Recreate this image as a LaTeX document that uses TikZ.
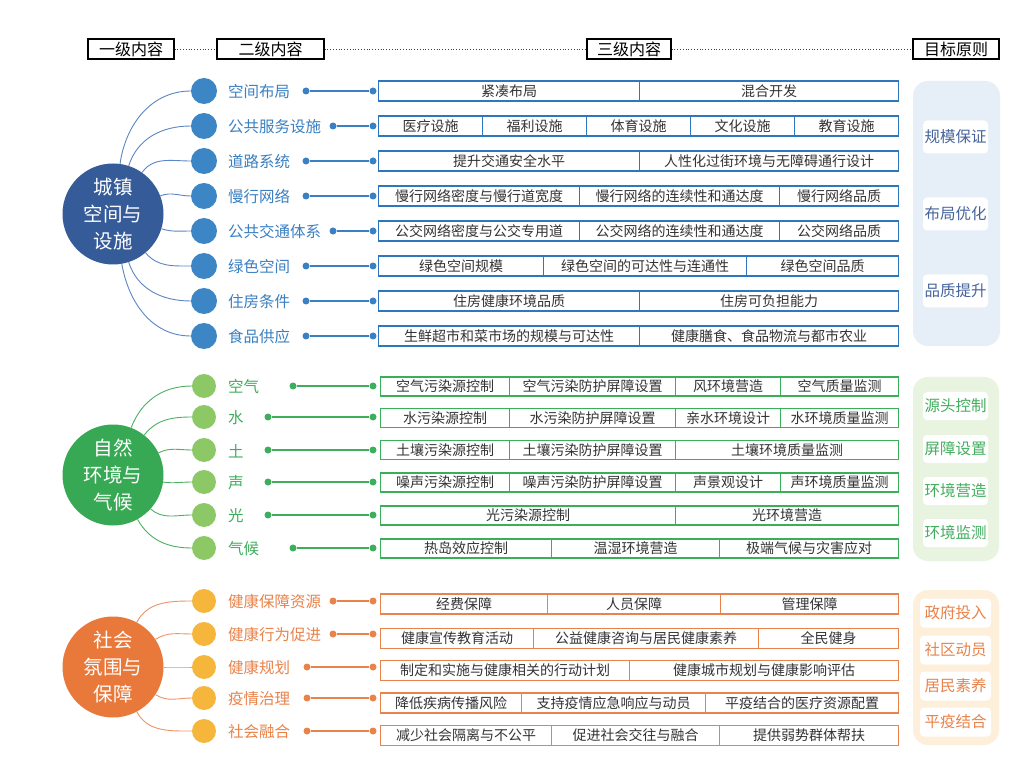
\documentclass[tikz,border=0pt]{standalone}
\usepackage{fontspec}
\setmainfont{Noto Sans CJK SC}
\definecolor{txt}{HTML}{333333}
\definecolor{bBig}{HTML}{355C99}
\definecolor{bSm}{HTML}{3C86C6}
\definecolor{bLab}{HTML}{3A80C2}
\definecolor{bCur}{HTML}{5B86C5}
\definecolor{bBox}{HTML}{2F77BD}
\definecolor{bPan}{HTML}{E6EEF7}
\definecolor{bTag}{HTML}{45649C}
\definecolor{gBig}{HTML}{37A853}
\definecolor{gSm}{HTML}{8CC866}
\definecolor{gLab}{HTML}{3DAE5B}
\definecolor{gCur}{HTML}{4DB063}
\definecolor{gBox}{HTML}{3AAE58}
\definecolor{gPan}{HTML}{E8F4E0}
\definecolor{gTag}{HTML}{42AE5E}
\definecolor{oBig}{HTML}{E8793B}
\definecolor{oSm}{HTML}{F5B63B}
\definecolor{oLab}{HTML}{E9834A}
\definecolor{oCur}{HTML}{EB9566}
\definecolor{oBox}{HTML}{E8834E}
\definecolor{oPan}{HTML}{FDEFD9}
\definecolor{oTag}{HTML}{E9834A}
\tikzset{
 hdr/.style={draw=black, line width=1.2pt, fill=white, minimum height=20pt, inner sep=0pt, text=black, font=\fontsize{16}{16}\selectfont},
 big/.style={circle, minimum size=101pt, inner sep=0pt, text=white, align=center, font=\fontsize{19.5}{27}\selectfont},
 sm/.style={circle, inner sep=0pt},
 lab/.style={anchor=west, inner sep=0pt, font=\fontsize{15.5}{15.5}\selectfont},
 dt/.style={circle, minimum size=7pt, inner sep=0pt},
 cell/.style={line width=1.2pt, fill=white, minimum height=20pt, inner sep=0pt, anchor=west, text=txt, font=\fontsize{14}{14}\selectfont},
 tag/.style={fill=white, rounded corners=4pt, inner sep=0pt, font=\fontsize{15.5}{15.5}\selectfont},
 cur/.style={line width=0.9pt},
}
\newcommand\Cell[6]{%
 \pgfmathsetmacro\cw{#4-#3}%
 \node[cell, #1, minimum width=\cw pt] (#2) at (#3,-#5) {#6};}
\newcommand\Br[6]{%
 \node[sm, fill=#1Sm, minimum size=#6pt] (#1c#2) at (204,-#3) {};
 \node[lab, text=#1Lab] (#1l#2) at (228,-#3-1) {#4};
 \node[dt, fill=#1Lab] (#1d#2) at (#5,-#3) {};
 \node[dt, fill=#1Lab] (#1e#2) at (373,-#3) {};
 \draw[#1Lab, line width=1.4pt] (#1d#2) -- (#1e#2);}
\begin{document}
\begin{tikzpicture}[x=1pt,y=1pt]
\useasboundingbox[fill=white] (0,0) rectangle (1034,-767);
% header
\node[hdr, minimum width=86pt] (h1) at (131,-49) {一级内容};
\node[hdr, minimum width=107pt] (h2) at (270.5,-49) {二级内容};
\node[hdr, minimum width=84pt] (h3) at (629,-49) {三级内容};
\node[hdr, minimum width=86pt] (h4) at (956,-49) {目标原则};
\draw[dotted, line width=0.8pt, black!75] (h1.east) -- (h2.west);
\draw[dotted, line width=0.8pt, black!75] (h2.east) -- (h3.west);
\draw[dotted, line width=0.8pt, black!75] (h3.east) -- (h4.west);
% panels
\fill[bPan, rounded corners=15pt] (913,-81) rectangle (1000,-346);
\fill[gPan, rounded corners=15pt] (913,-377) rectangle (999,-561);
\fill[oPan, rounded corners=15pt] (913,-590) rectangle (999,-745);
\node[tag, text=bTag, minimum width=65pt, minimum height=33pt] (bt1) at (955.5,-137) {规模保证};
\node[tag, text=bTag, minimum width=65pt, minimum height=33pt] (bt2) at (955.5,-214) {布局优化};
\node[tag, text=bTag, minimum width=65pt, minimum height=33pt] (bt3) at (955.5,-291) {品质提升};
\node[tag, text=gTag, minimum width=65pt, minimum height=28pt] (gt1) at (955.5,-406) {源头控制};
\node[tag, text=gTag, minimum width=65pt, minimum height=28pt] (gt2) at (955.5,-449) {屏障设置};
\node[tag, text=gTag, minimum width=65pt, minimum height=28pt] (gt3) at (955.5,-491) {环境营造};
\node[tag, text=gTag, minimum width=65pt, minimum height=28pt] (gt4) at (955.5,-533) {环境监测};
\node[tag, text=oTag, minimum width=71pt, minimum height=29pt] (ot1) at (955.5,-613) {政府投入};
\node[tag, text=oTag, minimum width=71pt, minimum height=29pt] (ot2) at (955.5,-650) {社区动员};
\node[tag, text=oTag, minimum width=71pt, minimum height=29pt] (ot3) at (955.5,-686) {居民素养};
\node[tag, text=oTag, minimum width=71pt, minimum height=29pt] (ot4) at (955.5,-722) {平疫结合};
% ===== blue group
\node[big, fill=bBig] (B) at (113,-214) {城镇\\空间与\\设施};
\Br{b}{1}{91}{空间布局}{306}{26}
\Br{b}{2}{126}{公共服务设施}{333}{26}
\Br{b}{3}{161}{道路系统}{306}{26}
\Br{b}{4}{196}{慢行网络}{306}{26}
\Br{b}{5}{231}{公共交通体系}{333}{26}
\Br{b}{6}{266}{绿色空间}{306}{26}
\Br{b}{7}{301}{住房条件}{306}{26}
\Br{b}{8}{336}{食品供应}{306}{26}
\draw[cur, bCur] (B.82) to[out=82,in=180] (bc1.west);
\draw[cur, bCur] (B.72) to[out=72,in=180] (bc2.west);
\draw[cur, bCur] (B.55) to[out=55,in=180] (bc3.west);
\draw[cur, bCur] (B.21) to[out=21,in=180] (bc4.west);
\draw[cur, bCur] (B.-17) to[out=-17,in=180] (bc5.west);
\draw[cur, bCur] (B.-50) to[out=-50,in=180] (bc6.west);
\draw[cur, bCur] (B.-72) to[out=-72,in=180] (bc7.west);
\draw[cur, bCur] (B.-80) to[out=-80,in=180] (bc8.west);
\Cell{draw=bBox}{b1a}{378}{639}{91}{紧凑布局}
\Cell{draw=bBox}{b1b}{639}{898}{91}{混合开发}
\Cell{draw=bBox}{b2a}{378}{482}{126}{医疗设施}
\Cell{draw=bBox}{b2b}{482}{586}{126}{福利设施}
\Cell{draw=bBox}{b2c}{586}{690}{126}{体育设施}
\Cell{draw=bBox}{b2d}{690}{794}{126}{文化设施}
\Cell{draw=bBox}{b2e}{794}{898}{126}{教育设施}
\Cell{draw=bBox}{b3a}{378}{639}{161}{提升交通安全水平}
\Cell{draw=bBox}{b3b}{639}{898}{161}{人性化过街环境与无障碍通行设计}
\Cell{draw=bBox}{b4a}{378}{579}{196}{慢行网络密度与慢行道宽度}
\Cell{draw=bBox}{b4b}{579}{779}{196}{慢行网络的连续性和通达度}
\Cell{draw=bBox}{b4c}{779}{898}{196}{慢行网络品质}
\Cell{draw=bBox}{b5a}{378}{579}{231}{公交网络密度与公交专用道}
\Cell{draw=bBox}{b5b}{579}{779}{231}{公交网络的连续性和通达度}
\Cell{draw=bBox}{b5c}{779}{898}{231}{公交网络品质}
\Cell{draw=bBox}{b6a}{378}{543}{266}{绿色空间规模}
\Cell{draw=bBox}{b6b}{543}{746}{266}{绿色空间的可达性与连通性}
\Cell{draw=bBox}{b6c}{746}{898}{266}{绿色空间品质}
\Cell{draw=bBox}{b7a}{378}{639}{301}{住房健康环境品质}
\Cell{draw=bBox}{b7b}{639}{898}{301}{住房可负担能力}
\Cell{draw=bBox}{b8a}{378}{639}{336}{生鲜超市和菜市场的规模与可达性}
\Cell{draw=bBox}{b8b}{639}{898}{336}{健康膳食、食品物流与都市农业}
% ===== green group
\node[big, fill=gBig] (G) at (113,-475) {自然\\环境与\\气候};
\Br{g}{1}{386}{空气}{293}{24}
\Br{g}{2}{417}{水}{268}{24}
\Br{g}{3}{450}{土}{268}{24}
\Br{g}{4}{482}{声}{268}{24}
\Br{g}{5}{515}{光}{268}{24}
\Br{g}{6}{548}{气候}{293}{24}
\draw[cur, gCur] (G.69) to[out=69,in=180] (gc1.west);
\draw[cur, gCur] (G.52) to[out=52,in=180] (gc2.west);
\draw[cur, gCur] (G.26) to[out=26,in=180] (gc3.west);
\draw[cur, gCur] (G.-8) to[out=-8,in=180] (gc4.west);
\draw[cur, gCur] (G.-42) to[out=-42,in=180] (gc5.west);
\draw[cur, gCur] (G.-61) to[out=-61,in=180] (gc6.west);
\Cell{draw=gBox, minimum height=19pt}{g1a}{380}{509}{386.5}{空气污染源控制}
\Cell{draw=gBox, minimum height=19pt}{g1b}{509}{675}{386.5}{空气污染防护屏障设置}
\Cell{draw=gBox, minimum height=19pt}{g1c}{675}{780}{386.5}{风环境营造}
\Cell{draw=gBox, minimum height=19pt}{g1d}{780}{898}{386.5}{空气质量监测}
\Cell{draw=gBox, minimum height=19pt}{g2a}{380}{509}{418}{水污染源控制}
\Cell{draw=gBox, minimum height=19pt}{g2b}{509}{675}{418}{水污染防护屏障设置}
\Cell{draw=gBox, minimum height=19pt}{g2c}{675}{780}{418}{亲水环境设计}
\Cell{draw=gBox, minimum height=19pt}{g2d}{780}{898}{418}{水环境质量监测}
\Cell{draw=gBox, minimum height=19pt}{g3a}{380}{509}{450}{土壤污染源控制}
\Cell{draw=gBox, minimum height=19pt}{g3b}{509}{675}{450}{土壤污染防护屏障设置}
\Cell{draw=gBox, minimum height=19pt}{g3c}{675}{898}{450}{土壤环境质量监测}
\Cell{draw=gBox, minimum height=19pt}{g4a}{380}{509}{482.5}{噪声污染源控制}
\Cell{draw=gBox, minimum height=19pt}{g4b}{509}{675}{482.5}{噪声污染防护屏障设置}
\Cell{draw=gBox, minimum height=19pt}{g4c}{675}{780}{482.5}{声景观设计}
\Cell{draw=gBox, minimum height=19pt}{g4d}{780}{898}{482.5}{声环境质量监测}
\Cell{draw=gBox, minimum height=19pt}{g5a}{380}{675}{515.5}{光污染源控制}
\Cell{draw=gBox, minimum height=19pt}{g5b}{675}{898}{515.5}{光环境营造}
\Cell{draw=gBox, minimum height=19pt}{g6a}{380}{551}{548.5}{热岛效应控制}
\Cell{draw=gBox, minimum height=19pt}{g6b}{551}{719}{548.5}{温湿环境营造}
\Cell{draw=gBox, minimum height=19pt}{g6c}{719}{898}{548.5}{极端气候与灾害应对}
% ===== orange group
\node[big, fill=oBig] (O) at (113,-667) {社会\\氛围与\\保障};
\Br{o}{1}{601}{健康保障资源}{333}{24}
\Br{o}{2}{634}{健康行为促进}{333}{24}
\Br{o}{3}{667}{健康规划}{307}{24}
\Br{o}{4}{698}{疫情治理}{307}{24}
\Br{o}{5}{731}{社会融合}{307}{24}
\draw[cur, oCur] (O.62) to[out=62,in=180] (oc1.west);
\draw[cur, oCur] (O.33) to[out=33,in=180] (oc2.west);
\draw[cur, oCur] (O.0) to[out=0,in=180] (oc3.west);
\draw[cur, oCur] (O.-33) to[out=-33,in=180] (oc4.west);
\draw[cur, oCur] (O.-62) to[out=-62,in=180] (oc5.west);
\Cell{draw=oBox}{o1a}{380}{547}{604}{经费保障}
\Cell{draw=oBox}{o1b}{547}{720}{604}{人员保障}
\Cell{draw=oBox}{o1c}{720}{898}{604}{管理保障}
\Cell{draw=oBox}{o2a}{380}{533}{638.5}{健康宣传教育活动}
\Cell{draw=oBox}{o2b}{533}{758}{638.5}{公益健康咨询与居民健康素养}
\Cell{draw=oBox}{o2c}{758}{898}{638.5}{全民健身}
\Cell{draw=oBox}{o3a}{380}{629}{670.5}{制定和实施与健康相关的行动计划}
\Cell{draw=oBox}{o3b}{629}{898}{670.5}{健康城市规划与健康影响评估}
\Cell{draw=oBox}{o4a}{380}{521}{703}{降低疾病传播风险}
\Cell{draw=oBox}{o4b}{521}{705}{703}{支持疫情应急响应与动员}
\Cell{draw=oBox}{o4c}{705}{898}{703}{平疫结合的医疗资源配置}
\Cell{draw=oBox}{o5a}{380}{551}{735.5}{减少社会隔离与不公平}
\Cell{draw=oBox}{o5b}{551}{719}{735.5}{促进社会交往与融合}
\Cell{draw=oBox}{o5c}{719}{898}{735.5}{提供弱势群体帮扶}
\end{tikzpicture}
\end{document}
